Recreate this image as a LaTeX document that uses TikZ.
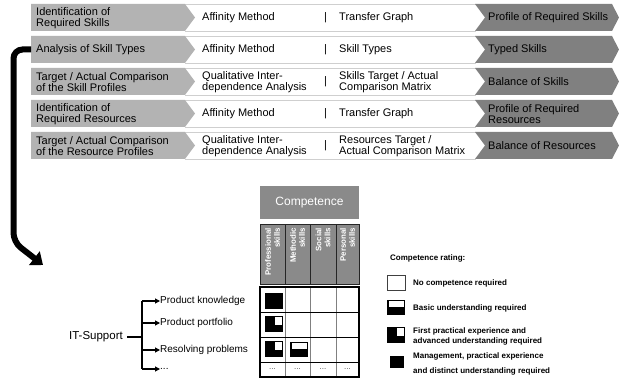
\documentclass[tikz,border=0pt]{standalone}
\usepackage{fontspec}
\setmainfont{Liberation Sans}
\usetikzlibrary{arrows.meta}

\definecolor{stepgrey}{HTML}{B3B3B3}
\definecolor{resultgrey}{HTML}{808080}
\definecolor{headgrey}{HTML}{8A8A8A}
\definecolor{edgegrey}{HTML}{CFCFCF}

\tikzset{
  rowtext/.style={anchor=west, align=left, inner sep=0, font=\fontsize{11}{11.2}\selectfont},
  legendtext/.style={anchor=west, align=left, inner sep=0, font=\fontsize{8}{10}\selectfont\bfseries},
  branchtext/.style={anchor=west, inner sep=0, font=\fontsize{10}{11}\selectfont},
  colhead/.style={rotate=90, anchor=east, align=right, inner sep=0, text=white,
    font=\fontsize{7.9}{9}\selectfont\bfseries},
  dotscell/.style={inner sep=0, text=black!70, font=\fontsize{8}{9}\selectfont},
  branch/.style={line width=1.1, -{Triangle[length=5pt,width=5pt]}},
  pics/ratingnone/.style={code={\draw[black!75, line width=0.8, fill=white] (0,0) rectangle (18,15);}},
  pics/ratingbasic/.style={code={
    \fill[black] (0,0) rectangle (18,15);
    \fill[white] (1.5,1.5) rectangle (16.5,7);}},
  pics/ratingfirst/.style={code={
    \fill[black] (0,0) rectangle (18,16);
    \fill[white] (9.5,1.5) rectangle (16.5,9.5);}},
  pics/ratingfull/.style={code={\fill[black] (0,0) rectangle (18,16);}},
}

% one process step: #1 name, #2 top y, #3 step, #4 method, #5 tool, #6 result
\newcommand\bandrow[6]{%
  \fill[white] (185,#2) -- (476,#2) -- (486,#2+13.5) -- (476,#2+27) -- (185,#2+27) -- cycle;
  \draw[edgegrey, line width=0.9] (185,#2) -- (476,#2);
  \draw[edgegrey, line width=0.9] (185,#2+27) -- (476,#2+27);
  \fill[stepgrey] (31,#2) -- (185,#2) -- (195,#2+13.5) -- (185,#2+27) -- (31,#2+27) -- cycle;
  \fill[resultgrey] (475,#2) -- (612,#2) -- (619,#2+13.5) -- (612,#2+27) -- (475,#2+27) -- (485,#2+13.5) -- cycle;
  \coordinate (#1in) at (31,#2+13.5);
  \node[rowtext] (#1step) at (36,#2+14) {#3};
  \node[rowtext] (#1method) at (202,#2+14) {#4};
  \node[rowtext] (#1bar) at (324,#2+14) {|};
  \node[rowtext] (#1tool) at (339,#2+14) {#5};
  \node[rowtext] (#1result) at (488,#2+14) {#6};
}

\begin{document}
\begin{tikzpicture}[x=1pt,y=-1pt]
\useasboundingbox (0,0) rectangle (619,387);

% process steps
\bandrow{ra}{4}{Identification of\\Required Skills}{Affinity Method}{Transfer Graph}{Profile of Required Skills}
\bandrow{rb}{36}{Analysis of Skill Types}{Affinity Method}{Skill Types}{Typed Skills}
\bandrow{rc}{68}{Target / Actual Comparison\\of the Skill Profiles}{Qualitative Inter-\\dependence Analysis}{Skills Target / Actual\\Comparison Matrix}{Balance of Skills}
\bandrow{rd}{100}{Identification of\\Required Resources}{Affinity Method}{Transfer Graph}{Profile of Required\\Resources}
\bandrow{re}{132}{Target / Actual Comparison\\of the Resource Profiles}{Qualitative Inter-\\dependence Analysis}{Resources Target /\\Actual Comparison Matrix}{Balance of Resources}

% link from the skill type analysis to the matrix
\coordinate (bend) at (13.5,242);
\coordinate (target) at (43,265);
\draw[line width=6, rounded corners=9, -{Triangle[length=11pt,width=17pt]}]
  (rbin) -- (13.5,49.5) -- (bend) -- (target);

% competence header
\node[fill=headgrey, minimum width=99, minimum height=33, inner sep=0, text=white,
  font=\fontsize{12}{14}\selectfont] (comp) at (309.5,202.5) {Competence};

\foreach \xa/\xb in {260/285, 285/310, 310/336, 336/359}
  \draw[fill=headgrey, draw=black!85, line width=0.9] (\xa,224) rectangle (\xb,284);
\node[colhead] (hprof) at (272.5,228) {Professional\\skills};
\node[colhead] (hmeth) at (297.5,228) {Methodic\\skills};
\node[colhead] (hsoc) at (323,228) {Social\\skills};
\node[colhead] (hpers) at (347.5,228) {Personal\\skills};

% rating grid
\foreach \xx in {285,310,336}
  \draw[gray, line width=1] (\xx,287) -- (\xx,377);
\foreach \yy in {312,337,362}
  \draw[black, line width=0.8] (260,\yy) -- (359,\yy);
\draw[black, line width=1.5] (260,287) rectangle (359,377);

\pic at (265,293) {ratingfull};
\pic at (265,316) {ratingfirst};
\pic at (265,341) {ratingfirst};
\pic at (290,342) {ratingbasic};

\node[dotscell] (da) at (272.5,369) {...};
\node[dotscell] (db) at (297.5,369) {...};
\node[dotscell] (dc) at (323,369) {...};
\node[dotscell] (dd) at (347.5,369) {...};

% IT support breakdown
\node[anchor=east, inner sep=0, font=\fontsize{11.5}{13}\selectfont] (its) at (123,337) {IT-Support};
\coordinate (trunk) at (142,337);
\coordinate (ttop) at (142,301);
\coordinate (tb) at (142,323);
\coordinate (tc) at (142,350);
\coordinate (tbot) at (142,369);
\node[branchtext] (pk) at (160,301) {Product knowledge};
\node[branchtext] (pp) at (160,323) {Product portfolio};
\node[branchtext] (rp) at (160,350) {Resolving problems};
\node[branchtext] (pm) at (160,369) {...};
\draw[line width=1.1] (its.east) ++(4,0) -- (trunk);
\draw[line width=1.1] (ttop) -- (tbot);
\draw[branch] (ttop) -- (pk.west);
\draw[branch] (tb) -- (pp.west);
\draw[branch] (tc) -- (rp.west);
\draw[branch] (tbot) -- (pm.west);

% legend
\node[legendtext] (lt) at (390,258) {Competence rating:};
\pic at (387,275) {ratingnone};
\node[legendtext] (la) at (413,283) {No competence required};
\pic at (387,300) {ratingbasic};
\node[legendtext] (lb) at (413,308) {Basic understanding required};
\pic at (387,327) {ratingfirst};
\node[legendtext] (lc) at (413,336) {First practical experience and\\advanced understanding required};
\pic[scale=0.75] at (390,356) {ratingfull};
\node[legendtext] (ld) at (413,364) {Management, practical experience\\[5pt]and distinct understanding required};
\end{tikzpicture}
\end{document}
